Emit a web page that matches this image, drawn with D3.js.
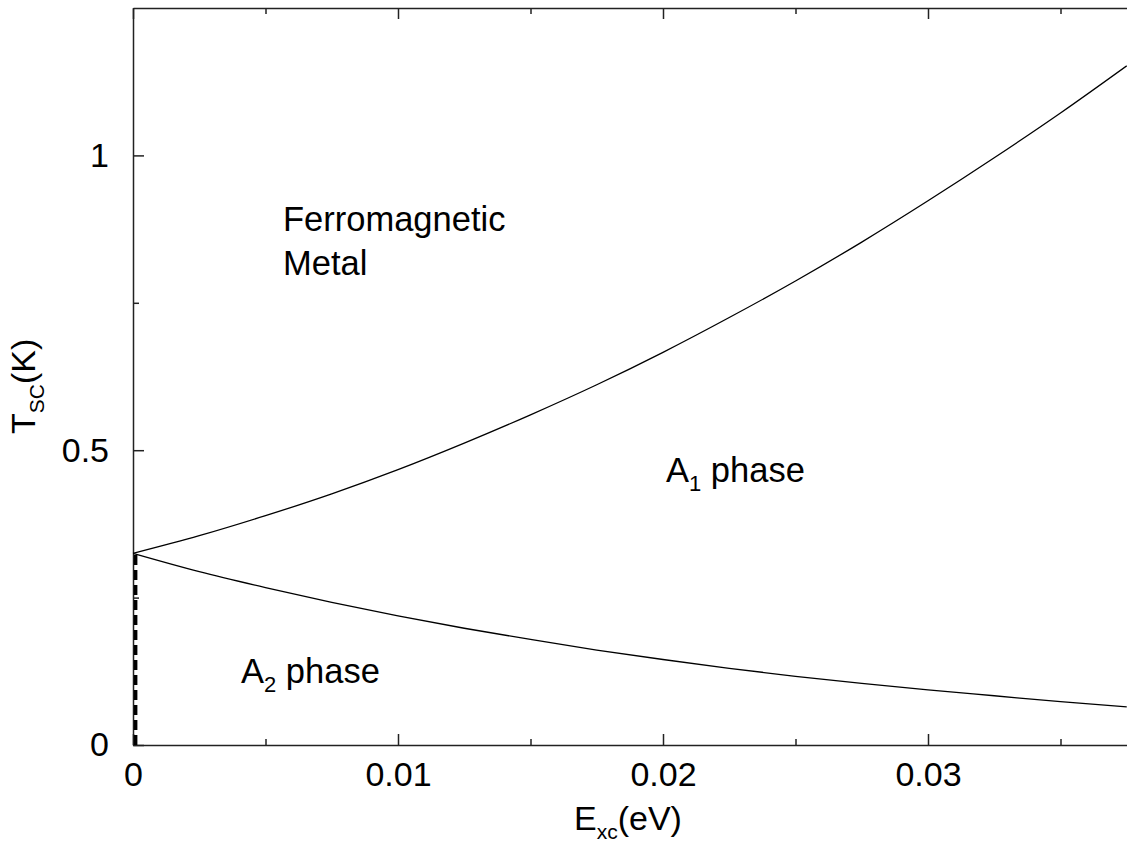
<!DOCTYPE html>
<html>
<head>
<meta charset="utf-8">
<script src="https://cdn.jsdelivr.net/npm/d3@7"></script>
<style>
  html, body { margin: 0; padding: 0; background: #fff; }
  svg { display: block; font-family: "Liberation Sans", Arial, Helvetica, sans-serif; }
  .axis path, .axis line { stroke: #222; stroke-width: 1.5; }
  .axis text { font-size: 34px; fill: #000; }
</style>
</head>
<body>
<svg id="chart" width="1127" height="845"></svg>
<script>
// Phase diagram: superconducting transition temperature vs exchange energy
const exchangeEnergy = [0, 0.0025, 0.005, 0.0075, 0.01, 0.0125, 0.015, 0.0175, 0.02,
                        0.0225, 0.025, 0.0275, 0.03, 0.0325, 0.035, 0.0375];
// upper boundary (A1 / ferromagnetic metal)
const tcUpper = [0.325, 0.355, 0.389, 0.426, 0.467, 0.512, 0.560, 0.611, 0.666,
                 0.725, 0.787, 0.853, 0.923, 0.996, 1.072, 1.152];
// lower boundary (A2 / A1)
const tcLower = [0.325, 0.294, 0.267, 0.242, 0.219, 0.198, 0.179, 0.161, 0.145,
                 0.130, 0.1165, 0.1045, 0.0935, 0.0835, 0.0735, 0.0645];
// dashed boundary at vanishing exchange energy
const dashedE = [0.0001, 0.0001];
const dashedT = [0, 0.325];

const xTicks = [0, 0.01, 0.02, 0.03];
const xTickLabels = ["0", "0.01", "0.02", "0.03"];
const xMinorTicks = [0.005, 0.015, 0.025, 0.035];
const yTicks = [0, 0.5, 1];
const yTickLabels = ["0", "0.5", "1"];
const yMinorTicks = [0.25, 0.75];

const svg = d3.select("#chart");
const plotLeft = 133, plotTop = 8, plotBottom = 745;

const x = d3.scaleLinear().domain([0, 0.04]).range([plotLeft, plotLeft + 0.04 * 26500]);
const y = d3.scaleLinear().domain([0, 1.25]).range([plotBottom, plotTop]);

const xLabel = d => xTickLabels[xTicks.indexOf(d)];
const yLabel = d => yTickLabels[yTicks.indexOf(d)];

// bottom axis (ticks point inward)
svg.append("g").attr("class", "axis")
  .attr("transform", `translate(0,${plotBottom})`)
  .call(d3.axisBottom(x).tickValues(xTicks).tickFormat(xLabel)
        .tickSizeInner(-11).tickSizeOuter(0).tickPadding(17));
svg.append("g").attr("class", "axis")
  .attr("transform", `translate(0,${plotBottom})`)
  .call(d3.axisBottom(x).tickValues(xMinorTicks).tickFormat("")
        .tickSizeInner(-6).tickSizeOuter(0))
  .select(".domain").remove();

// top axis (mirrored ticks)
svg.append("g").attr("class", "axis")
  .attr("transform", `translate(0,${plotTop})`)
  .call(d3.axisTop(x).tickValues(xTicks).tickFormat("")
        .tickSizeInner(-11).tickSizeOuter(0));
svg.append("g").attr("class", "axis")
  .attr("transform", `translate(0,${plotTop})`)
  .call(d3.axisTop(x).tickValues(xMinorTicks).tickFormat("")
        .tickSizeInner(-6).tickSizeOuter(0))
  .select(".domain").remove();

// left axis
svg.append("g").attr("class", "axis")
  .attr("transform", `translate(${plotLeft},0)`)
  .call(d3.axisLeft(y).tickValues(yTicks).tickFormat(yLabel)
        .tickSizeInner(-11).tickSizeOuter(0).tickPadding(24));
svg.append("g").attr("class", "axis")
  .attr("transform", `translate(${plotLeft},0)`)
  .call(d3.axisLeft(y).tickValues(yMinorTicks).tickFormat("")
        .tickSizeInner(-6).tickSizeOuter(0))
  .select(".domain").remove();

// phase boundaries
const line = d3.line()
  .x((d, i) => x(exchangeEnergy[i]))
  .y(d => y(d))
  .curve(d3.curveMonotoneX);

[tcUpper, tcLower].forEach(series => {
  svg.append("path")
    .datum(series)
    .attr("d", line)
    .attr("fill", "none")
    .attr("stroke", "#000")
    .attr("stroke-width", 1.3);
});

svg.append("path")
  .datum(dashedT)
  .attr("d", d3.line().x((d, i) => x(dashedE[i])).y(d => y(d)))
  .attr("fill", "none")
  .attr("stroke", "#000")
  .attr("stroke-width", 3.5)
  .attr("stroke-dasharray", "10,5");

// region labels
const label = (tx, ty, main, sub, rest) => {
  const t = svg.append("text")
    .attr("x", tx).attr("y", ty)
    .attr("font-size", 34.5).attr("fill", "#000");
  t.append("tspan").text(main);
  if (sub) {
    t.append("tspan").attr("font-size", 22).attr("dy", 9).text(sub);
    t.append("tspan").attr("dy", -9).text(rest);
  }
  return t;
};

label(283, 231, "Ferromagnetic");
label(283, 275, "Metal");
label(666, 482, "A", "1", " phase");
label(241, 683, "A", "2", " phase");

// axis titles
const xt = svg.append("text")
  .attr("x", 574).attr("y", 830)
  .attr("font-size", 34).attr("fill", "#000");
xt.append("tspan").text("E");
xt.append("tspan").attr("font-size", 21).attr("dy", 9).text("xc");
xt.append("tspan").attr("dy", -9).text("(eV)");

const yt = svg.append("text")
  .attr("transform", "translate(35,434) rotate(-90)")
  .attr("font-size", 34).attr("fill", "#000");
yt.append("tspan").text("T");
yt.append("tspan").attr("font-size", 21).attr("dy", 9).text("SC");
yt.append("tspan").attr("dy", -9).text("(K)");
</script>
</body>
</html>
